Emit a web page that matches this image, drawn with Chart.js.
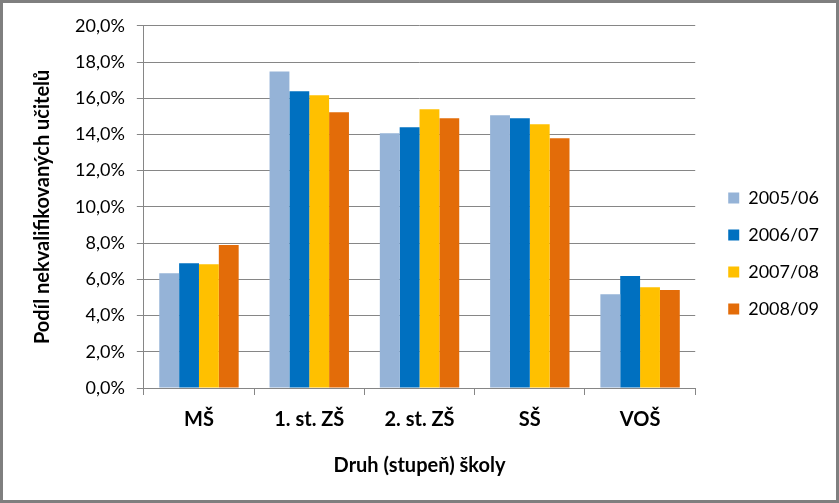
<!DOCTYPE html>
<html>
<head>
<meta charset="utf-8">
<script src="https://cdn.jsdelivr.net/npm/chart.js@4"></script>
<style>
    html, body { margin: 0; padding: 0; background: #fff; }
    .frame {
        width: 839px; height: 503px; box-sizing: border-box;
        border: 3px solid #7f7f7f; background: #fff;
    }
    .frame canvas { display: block; }
</style>
</head>
<body>
<div class="frame">
    <canvas id="teacher-chart" width="833" height="497"></canvas>
</div>
<script>
// school types and share of unqualified teachers (%) per school year
const categories = ['MŠ', '1. st. ZŠ', '2. st. ZŠ', 'SŠ', 'VOŠ'];
const years = ['2005/06', '2006/07', '2007/08', '2008/09'];
const values0506 = [6.34, 17.48, 14.07, 15.06, 5.18];
const values0607 = [6.89, 16.38, 14.40, 14.89, 6.18];
const values0708 = [6.84, 16.16, 15.39, 14.56, 5.57];
const values0809 = [7.89, 15.22, 14.89, 13.79, 5.41];
const colors = ['#95B3D7', '#0070C0', '#FFC000', '#E36C09'];

const fontFamily = 'Lato, "Open Sans", sans-serif';
const gridColor = '#868686';

// legend sits a bit further from the plot than Chart.js puts it
const LEGEND_EXTRA_W = 5;
const LEGEND_SHIFT_X = 14;
const LEGEND_SHIFT_Y = 6;

const legendNudge = {
    id: 'legendNudge',
    beforeLayout(chart) {
        const lg = chart.legend;
        if (lg && !lg._nudged) {
            const fit = lg.fit.bind(lg);
            lg.fit = function () {
                fit();
                this.width += LEGEND_EXTRA_W;
            };
            lg._nudged = true;
        }
    },
    afterLayout(chart) {
        const lg = chart.legend;
        if (!lg) return;
        lg.left += LEGEND_SHIFT_X;
        lg.right += LEGEND_SHIFT_X;
        lg.top += LEGEND_SHIFT_Y;
        lg.bottom += LEGEND_SHIFT_Y;
    }
};

const ctx = document.getElementById('teacher-chart');
new Chart(ctx, {
    type: 'bar',
    data: {
        labels: categories,
        datasets: [values0506, values0607, values0708, values0809].map((vals, i) => ({
            label: years[i],
            data: vals,
            backgroundColor: colors[i],
            borderWidth: 0,
            barPercentage: 1,
            categoryPercentage: 0.72
        }))
    },
    options: {
        responsive: false,
        animation: false,
        layout: { padding: { top: 10, right: 16, bottom: 18, left: 24 } },
        scales: {
            x: {
                grid: {
                    display: true,
                    drawOnChartArea: false,
                    color: gridColor,
                    tickLength: 7
                },
                border: { color: gridColor },
                ticks: {
                    color: '#000',
                    font: { family: fontFamily, size: 20, weight: 'bold' },
                    padding: 13
                },
                title: {
                    display: true,
                    text: 'Druh (stupeň) školy',
                    color: '#000',
                    font: { family: fontFamily, size: 20, weight: 'bold' },
                    padding: { top: 9 }
                }
            },
            y: {
                min: 0,
                max: 20,
                grid: { color: gridColor, tickLength: 7 },
                border: { color: gridColor },
                ticks: {
                    stepSize: 2,
                    color: '#000',
                    font: { family: fontFamily, size: 18 },
                    padding: 12,
                    callback: (v) => v.toFixed(1).replace('.', ',') + '%'
                },
                title: {
                    display: true,
                    text: 'Podíl nekvalifikovaných učitelů',
                    color: '#000',
                    font: { family: fontFamily, size: 20, weight: 'bold' },
                    padding: { bottom: 8 }
                }
            }
        },
        plugins: {
            legend: {
                position: 'right',
                labels: {
                    boxWidth: 11,
                    boxHeight: 11,
                    padding: 19,
                    color: '#000',
                    font: { family: fontFamily, size: 18 }
                }
            },
            tooltip: { enabled: false }
        }
    },
    plugins: [legendNudge]
});
</script>
</body>
</html>
